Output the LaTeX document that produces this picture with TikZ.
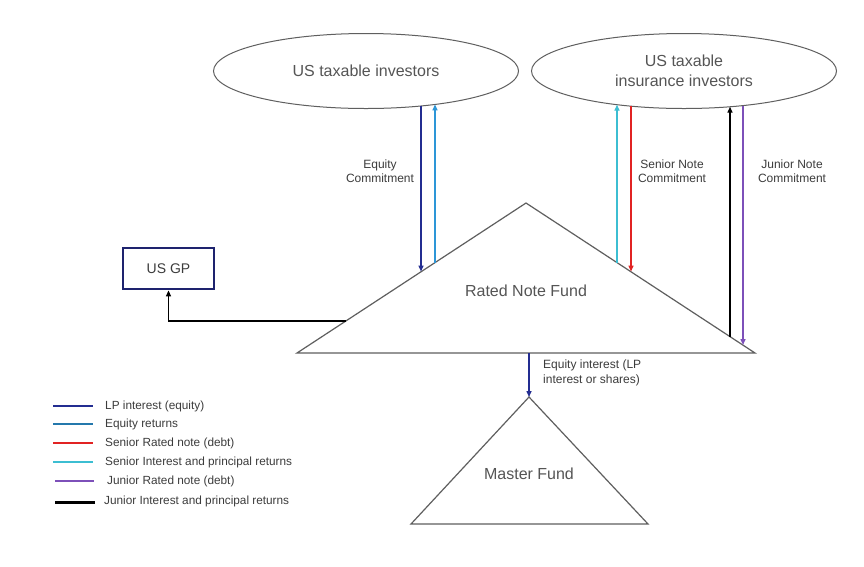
\documentclass[tikz,border=0pt]{standalone}
\usepackage{fontspec}
\setmainfont{Liberation Sans}
\usetikzlibrary{arrows.meta,shapes.geometric,calc}
\definecolor{txtgrey}{RGB}{85,85,85}
\definecolor{lblgrey}{RGB}{60,60,60}
\definecolor{shapegrey}{RGB}{95,95,95}
\definecolor{navy}{RGB}{35,45,145}
\definecolor{eqret}{RGB}{45,150,215}
\definecolor{cyanret}{RGB}{60,190,210}
\definecolor{rednote}{RGB}{225,35,35}
\definecolor{purplenote}{RGB}{125,80,185}
\definecolor{gpnavy}{RGB}{30,35,110}
\begin{document}
\begin{tikzpicture}[x=1pt,y=-1pt,
  big/.style={font=\fontsize{16}{20}\selectfont, text=txtgrey},
  small/.style={font=\fontsize{12}{14.5}\selectfont, text=lblgrey, align=center, inner sep=0pt},
  leg/.style={font=\fontsize{11.8}{13}\selectfont, text=lblgrey, anchor=west, inner sep=0pt},
  invest/.style={ellipse, draw=shapegrey, line width=1pt, minimum width=305pt, minimum height=75pt, inner sep=0pt, align=center, big},
  tri/.style={draw=shapegrey, line width=1.2pt, line join=miter},
  flow/.style={line width=1.4pt, -{Triangle[length=6pt,width=5pt]}},
  legline/.style={line width=2pt}
]
\useasboundingbox (0,0) rectangle (864,566);
\fill[white] (0,0) rectangle (864,566);

% investors
\node[invest] (inv) at (366,71) {US taxable investors};
\node[invest] (ins) at (684,71) {US taxable\\insurance investors};

% Rated Note Fund triangle
\coordinate (rnfA) at (526,203);
\coordinate (rnfL) at (297,353);
\coordinate (rnfR) at (755,353);
\draw[tri] (rnfL) -- (rnfA) -- (rnfR) -- cycle;
\node[big] (rnf) at (526,291) {Rated Note Fund};

% Master Fund triangle
\coordinate (mfA) at (529,397);
\coordinate (mfL) at (411,524);
\coordinate (mfR) at (648,524);
\draw[tri] (mfL) -- (mfA) -- (mfR) -- cycle;
\node[big] (mf) at (529,474) {Master Fund};

% US GP
\node[draw=gpnavy, line width=2.8pt, minimum width=91pt, minimum height=41pt, inner sep=0pt,
      font=\fontsize{14}{16}\selectfont, text=lblgrey] (usgp) at (168.5,268.5) {US GP};

% connection points
\coordinate (iA) at (421,106);   \coordinate (tA) at (421,271.5);
\coordinate (iB) at (435,104.4); \coordinate (tB) at (435,262.6);
\coordinate (iC) at (617,104.7); \coordinate (tC) at (617,262.6);
\coordinate (iD) at (631,106.2); \coordinate (tD) at (631,271.5);
\coordinate (iE) at (730,106.7); \coordinate (tE) at (730,336.6);
\coordinate (iF) at (743,105.6); \coordinate (tF) at (743,345);
\coordinate (gpj) at (346,321);
\coordinate (rnfB) at (529,353);

% flows
\draw[flow, navy] (iA) -- (tA);
\draw[flow, eqret] (tB) -- (iB);
\draw[flow, cyanret] (tC) -- (iC);
\draw[flow, rednote] (iD) -- (tD);
\draw[flow, black] (tE) -- (iE);
\draw[flow, purplenote] (iF) -- (tF);
\draw[flow, black] (gpj) -| (usgp.south);
\draw[flow, navy] (rnfB) -- (mfA);

% labels
\node[small] (lEq) at (380,171) {Equity\\Commitment};
\node[small] (lSen) at (672,171) {Senior Note\\Commitment};
\node[small] (lJun) at (792,171) {Junior Note\\Commitment};
\node[small, align=left, anchor=west] (lEi) at (543,373) {Equity interest (LP\\interest or shares)};

% legend
\coordinate (l1a) at (53,406); \coordinate (l1b) at (93,406);
\coordinate (l2a) at (53,424); \coordinate (l2b) at (93,424);
\coordinate (l3a) at (53,443); \coordinate (l3b) at (93,443);
\coordinate (l4a) at (53,462); \coordinate (l4b) at (93,462);
\coordinate (l5a) at (55,481); \coordinate (l5b) at (94,481);
\coordinate (l6a) at (55,502); \coordinate (l6b) at (95,502);
\draw[legline, navy] (l1a) -- (l1b);
\draw[legline, eqret!80!black] (l2a) -- (l2b);
\draw[legline, rednote] (l3a) -- (l3b);
\draw[legline, cyanret] (l4a) -- (l4b);
\draw[legline, purplenote] (l5a) -- (l5b);
\draw[line width=3pt, black] (l6a) -- (l6b);
\node[leg] (t1) at (105,406) {LP interest (equity)};
\node[leg] (t2) at (105,424) {Equity returns};
\node[leg] (t3) at (105,443) {Senior Rated note (debt)};
\node[leg] (t4) at (105,462) {Senior Interest and principal returns};
\node[leg] (t5) at (107,481) {Junior Rated note (debt)};
\node[leg] (t6) at (104,501) {Junior Interest and principal returns};
\end{tikzpicture}
\end{document}
